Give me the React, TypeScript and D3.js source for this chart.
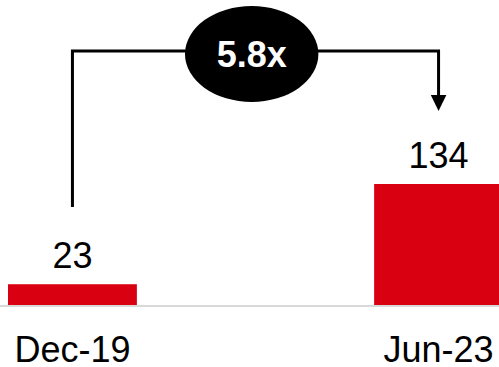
import React from "react";
import * as d3 from "d3";

const categories = ["Dec-19", "Jun-23"];
const values = [23, 134];
const multipleLabel = "5.8x";

const W = 499;
const H = 367;

export default function App() {
  const x = d3.scaleBand<string>().domain(categories).range([8, 503]).paddingInner(0.648).paddingOuter(0);
  const y = d3.scaleLinear().domain([0, 134]).range([305, 184]);
  const bw = x.bandwidth();
  const cx = (c: string) => (x(c) as number) + bw / 2;

  const leftX = cx(categories[0]);
  const rightX = cx(categories[1]);
  const bracketY = 51;
  const leftBottom = 207;
  const arrowTip = 111;
  const arrowLen = 16;
  const arrowHalf = 7.8;
  const ellipseCx = 251.7;
  const ellipseCy = 54;

  const bracket = d3.path();
  bracket.moveTo(leftX, leftBottom);
  bracket.lineTo(leftX, bracketY);
  bracket.lineTo(rightX, bracketY);
  bracket.lineTo(rightX, arrowTip - arrowLen + 1);

  const font = "'Liberation Sans', Arial, sans-serif";

  return (
    <svg width={W} height={H} style={{ position: "absolute", left: 0, top: 0, background: "#fff" }}>
      <path d={bracket.toString()} fill="none" stroke="#000" strokeWidth={3} strokeLinejoin="miter" />
      <path
        d={`M${rightX - arrowHalf},${arrowTip - arrowLen} L${rightX + arrowHalf},${arrowTip - arrowLen} L${rightX},${arrowTip} Z`}
        fill="#000"
      />
      <ellipse cx={ellipseCx} cy={ellipseCy} rx={66.7} ry={48} fill="#000" />
      <text x={ellipseCx} y={66.5} textAnchor="middle" fill="#fff" fontFamily={font} fontWeight="bold" fontSize={36}>
        {multipleLabel}
      </text>
      {categories.map((c, i) => (
        <rect key={c} x={x(c)} y={y(values[i])} width={bw} height={y(0) - y(values[i])} fill="#d90012" />
      ))}
      <line x1={0} x2={W} y1={306} y2={306} stroke="#d9d9d9" strokeWidth={2} />
      {categories.map((c, i) => (
        <text key={"v" + c} x={cx(c)} y={y(values[i]) - 16} textAnchor="middle" fill="#000" fontFamily={font} fontSize={36}>
          {values[i]}
        </text>
      ))}
      {categories.map((c) => (
        <text key={"c" + c} x={cx(c)} y={362} textAnchor="middle" fill="#000" fontFamily={font} fontSize={36}>
          {c}
        </text>
      ))}
    </svg>
  );
}
